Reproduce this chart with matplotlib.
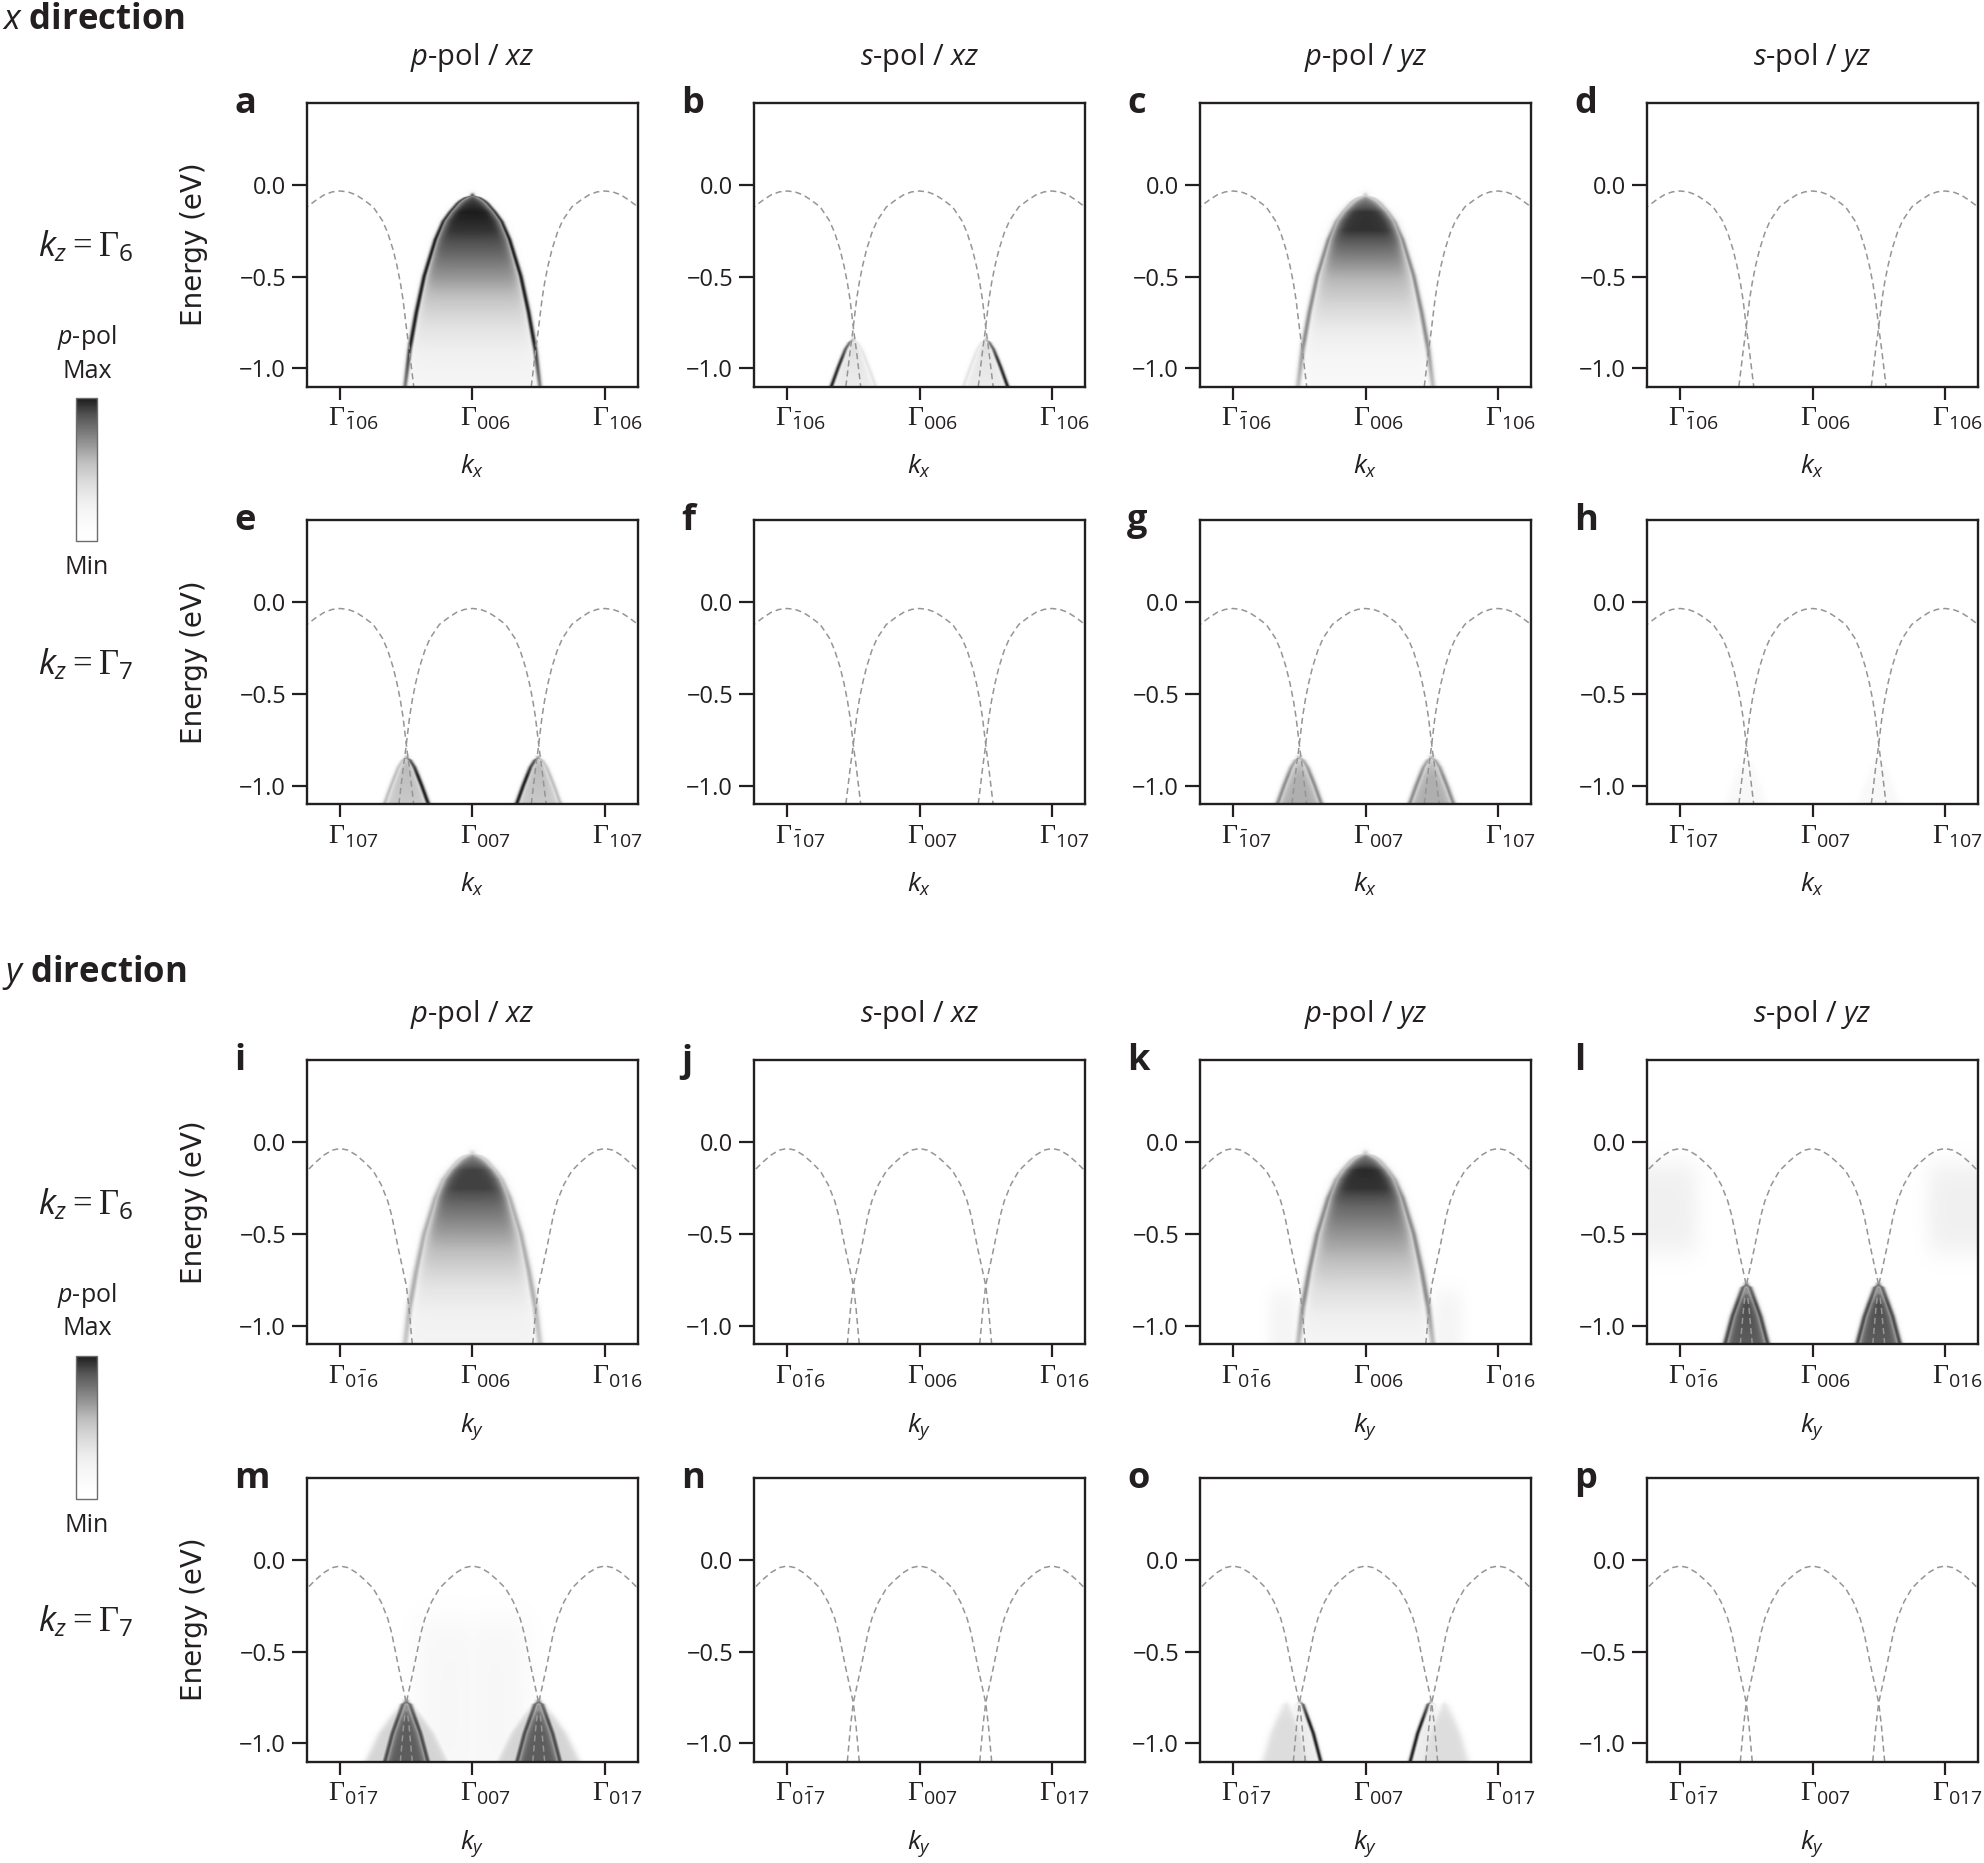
import numpy as np
import matplotlib
matplotlib.use('Agg')
import matplotlib.pyplot as plt
from matplotlib.colors import ListedColormap, Normalize
from matplotlib.cm import ScalarMappable
from matplotlib.transforms import ScaledTranslation

plt.rcParams['font.family'] = ['Open Sans', 'DejaVu Sans']
plt.rcParams['mathtext.fontset'] = 'custom'
plt.rcParams['mathtext.rm'] = 'Liberation Serif'
plt.rcParams['mathtext.it'] = 'Open Sans:italic'
plt.rcParams['mathtext.sf'] = 'Open Sans'
plt.rcParams['mathtext.bf'] = 'Open Sans:bold'

# ---- data ----
# dashed guide bands: k offset from each Gamma point, energy in eV
guide_dk_x = [0.0, 0.06, 0.12, 0.18, 0.25, 0.32, 0.36, 0.40, 0.43, 0.455, 0.475, 0.49, 0.505, 0.522, 0.537, 0.556]
guide_en_x = [-0.033, -0.038, -0.054, -0.082, -0.12, -0.195, -0.262, -0.353, -0.442, -0.533, -0.624, -0.714, -0.805, -0.895, -0.986, -1.10]
guide_dk_y = [0.0, 0.06, 0.12, 0.18, 0.25, 0.31, 0.36, 0.39, 0.415, 0.44, 0.47, 0.50, 0.52, 0.545]
guide_en_y = [-0.033, -0.042, -0.068, -0.105, -0.155, -0.23, -0.32, -0.40, -0.49, -0.58, -0.68, -0.78, -0.90, -1.10]
gamma_pos = [-1, 0, 1]
# panels whose central guide is hidden by the measured band
no_centre_guide = 'acik'

# bands seen in the maps: energy and half width
cent_en = [-0.06, -0.07, -0.085, -0.10, -0.15, -0.20, -0.30, -0.50, -0.70, -0.90, -1.10]
cent_hw = [0.0, 0.05, 0.085, 0.11, 0.17, 0.22, 0.28, 0.365, 0.425, 0.475, 0.51]
small_en_x = [-0.85, -0.86, -0.90, -1.00, -1.10]
small_hw_x = [0.0, 0.025, 0.06, 0.115, 0.165]
small_en_y = [-0.78, -0.79, -0.85, -0.95, -1.10]
small_hw_y = [0.0, 0.025, 0.055, 0.105, 0.16]
halo_hw_m = [0.0, 0.05, 0.12, 0.22, 0.32]
halo_hw_o = [0.0, 0.03, 0.07, 0.13, 0.19]

# intensity along energy (0 = white, 1 = darkest)
cent_fill_en = [-0.06, -0.15, -0.25, -0.35, -0.50, -0.65, -0.80, -0.95, -1.10]
fill_a = [0.9, 1.0, 0.95, 0.85, 0.68, 0.5, 0.35, 0.25, 0.2]
fill_c = [0.7, 0.95, 0.95, 0.8, 0.6, 0.45, 0.3, 0.2, 0.15]
fill_i = [0.7, 0.92, 0.92, 0.8, 0.65, 0.5, 0.35, 0.25, 0.22]
fill_k = [0.75, 0.97, 0.95, 0.82, 0.68, 0.55, 0.4, 0.28, 0.2]
cent_line_en = [-0.06, -0.30, -0.85, -1.10]
line_a = [0.9, 1.0, 1.0, 0.75]
line_c = [0.5, 0.7, 0.7, 0.55]
line_i = [0.45, 0.6, 0.6, 0.5]
line_k = [0.5, 0.7, 0.7, 0.55]

small_prof_x = [-0.85, -0.95, -1.10]
small_prof_y = [-0.78, -0.88, -1.10]
fill_b = [0.45, 0.35, 0.3]
line_b_out = [0.75, 0.95, 1.0]
line_b_in = [0.3, 0.35, 0.35]
fill_e = [0.6, 0.55, 0.5]
line_e_in = [0.85, 1.0, 1.0]
line_e_out = [0.5, 0.55, 0.55]
fill_g = [0.55, 0.6, 0.6]
line_g = [0.6, 0.7, 0.7]
fill_h = [0.15, 0.15, 0.15]
fill_l = [0.75, 0.9, 0.85]
line_l = [0.8, 0.9, 0.9]
fill_m = [0.75, 0.85, 0.85]
line_m = [0.8, 0.9, 0.9]
halo_m = [0.4, 0.45, 0.45]
fill_o = [0.3, 0.3, 0.3]
line_o_in = [0.85, 1.0, 1.0]
line_o_out = [0.2, 0.2, 0.2]
halo_o = [0.35, 0.4, 0.4]
none3 = [0.0, 0.0, 0.0]

letters = ['abcd', 'efgh', 'ijkl', 'mnop']
titles = [r'$p$-pol / $xz$', r'$s$-pol / $xz$', r'$p$-pol / $yz$', r'$s$-pol / $yz$']
ytick_vals = [0.0, -0.5, -1.0]
ytick_text = ['0.0', '\u22120.5', '\u22121.0']
xtick_text = {
    0: [r'$\Gamma_{\mathsf{\bar{1}06}}$', r'$\Gamma_{\mathsf{006}}$', r'$\Gamma_{\mathsf{106}}$'],
    1: [r'$\Gamma_{\mathsf{\bar{1}07}}$', r'$\Gamma_{\mathsf{007}}$', r'$\Gamma_{\mathsf{107}}$'],
    2: [r'$\Gamma_{\mathsf{0\bar{1}6}}$', r'$\Gamma_{\mathsf{006}}$', r'$\Gamma_{\mathsf{016}}$'],
    3: [r'$\Gamma_{\mathsf{0\bar{1}7}}$', r'$\Gamma_{\mathsf{007}}$', r'$\Gamma_{\mathsf{017}}$'],
}
xtick_e = [r'$\Gamma_{\mathsf{107}}$', r'$\Gamma_{\mathsf{007}}$', r'$\Gamma_{\mathsf{107}}$']
xlabels = [r'$k_x$', r'$k_x$', r'$k_y$', r'$k_y$']

# ---- map rendering ----
kgrid = np.linspace(-1.25, 1.25, 500)
egrid = np.linspace(-1.1, 0.45, 460)
KK, EE = np.meshgrid(kgrid, egrid)


def sig(x):
    return 0.5 * (1 + np.tanh(x))


def prof(xp, fp):
    xp = np.asarray(xp, float)[::-1]
    fp = np.asarray(fp, float)[::-1]
    return np.interp(EE, xp, fp)


def dome(c, en, hw, p_en, fill, l_en, left, right, lw=0.022, ew=0.015):
    apex = en[0]
    half = prof(en, hw)
    dk = np.abs(KK - c)
    d = np.where(EE > apex, np.hypot(dk, (EE - apex) * 1.4), dk - half)
    inside = sig(-d / (2 * ew))
    f = prof(p_en, fill) * inside
    w = sig((KK - c) / 0.02)
    lv = prof(l_en, left) * (1 - w) + prof(l_en, right) * w
    line = lv * np.exp(-(d / lw) ** 2)
    return np.maximum(f, line)


def box(k0, k1, e0, e1, v, s=0.04):
    ak = np.abs(KK)
    return v * sig((ak - k0) / s) * sig((k1 - ak) / s) * sig((EE - e0) / s) * sig((e1 - EE) / s)


def cent(fill, line, ew=0.02, lw=0.025):
    return dome(0, cent_en, cent_hw, cent_fill_en, fill, cent_line_en, line, line, lw=lw, ew=ew)


def pair(en, hw, p_en, fill, outer, inner, lw=0.022, centers=(-0.5, 0.5)):
    cl, cr = centers
    return np.maximum(dome(cl, en, hw, p_en, fill, p_en, outer, inner, lw=lw),
                      dome(cr, en, hw, p_en, fill, p_en, inner, outer, lw=lw))


def render(letter):
    parts = []
    if letter == 'a':
        parts.append(cent(fill_a, line_a))
    elif letter == 'b':
        parts.append(pair(small_en_x, small_hw_x, small_prof_x, fill_b, line_b_out, line_b_in))
    elif letter == 'c':
        parts.append(cent(fill_c, line_c, ew=0.025, lw=0.03))
    elif letter == 'e':
        parts.append(pair(small_en_x, small_hw_x, small_prof_x, fill_e, line_e_out, line_e_in, lw=0.025))
    elif letter == 'g':
        parts.append(pair(small_en_x, small_hw_x, small_prof_x, fill_g, line_g, line_g, lw=0.03))
    elif letter == 'h':
        parts.append(pair(small_en_x, small_hw_x, small_prof_x, fill_h, none3, none3))
    elif letter == 'i':
        parts.append(cent(fill_i, line_i, ew=0.025, lw=0.035))
    elif letter == 'k':
        parts.append(cent(fill_k, line_k, ew=0.025, lw=0.035))
        parts.append(box(0.5, 0.74, -1.3, -0.8, 0.22, s=0.07))
    elif letter == 'l':
        parts.append(pair(small_en_y, small_hw_y, small_prof_y, fill_l, line_l, line_l, lw=0.03))
        parts.append(box(0.86, 1.45, -0.62, -0.1, 0.27, s=0.09))
    elif letter == 'm':
        parts.append(pair(small_en_y, halo_hw_m, small_prof_y, halo_m, none3, none3))
        parts.append(pair(small_en_y, small_hw_y, small_prof_y, fill_m, line_m, line_m, lw=0.03))
        parts.append(box(-0.1, 0.45, -1.3, -0.3, 0.17, s=0.12))
    elif letter == 'o':
        parts.append(pair(small_en_y, halo_hw_o, small_prof_y, halo_o, none3, none3, centers=(-0.6, 0.6)))
        parts.append(pair(small_en_y, small_hw_y, small_prof_y, fill_o, line_o_out, line_o_in, lw=0.022))
    img = np.zeros_like(KK)
    for p in parts:
        img = np.maximum(img, p)
    return np.clip(img, 0, 1)


base = plt.get_cmap('Greys')
tt = np.linspace(0, 1, 256)
cmap = ListedColormap(base(0.9 * tt ** 1.5))

# ---- layout (pixels) ----
W, H = 1984, 1863
col_left = [307, 754, 1200, 1647]
row_top = [102.5, 520, 1060, 1477.5]
aw, ah = 331, 284
ink = '#231f20'

fig = plt.figure(figsize=(W / 100, H / 100), dpi=100)


def fx(x):
    return x / W


def fy(y):
    return 1 - y / H


for r in range(4):
    for ci in range(4):
        letter = letters[r][ci]
        ax = fig.add_axes([fx(col_left[ci]), fy(row_top[r] + ah), aw / W, ah / H])
        ax.imshow(render(letter), extent=[-1.25, 1.25, -1.1, 0.45], origin='lower',
                  aspect='auto', cmap=cmap, vmin=0, vmax=1, interpolation='bilinear')
        if r < 2:
            dk, en = np.array(guide_dk_x), np.array(guide_en_x)
        else:
            dk, en = np.array(guide_dk_y), np.array(guide_en_y)
        for g in gamma_pos:
            if g == 0 and letter in no_centre_guide:
                continue
            kk = np.concatenate([g - dk[::-1], g + dk[1:]])
            ee = np.concatenate([en[::-1], en[1:]])
            ax.plot(kk, ee, color='#959595', lw=1.1, ls=(0, (4, 2.6)))
        ax.set_xlim(-1.25, 1.25)
        ax.set_ylim(-1.1, 0.45)
        for s in ax.spines.values():
            s.set_linewidth(1.7)
            s.set_color(ink)
        ax.set_yticks(ytick_vals)
        ax.set_yticklabels(ytick_text)
        ax.set_xticks(gamma_pos)
        labs = xtick_e if letter == 'e' else xtick_text[r]
        ax.set_xticklabels(labs)
        ax.tick_params(axis='y', direction='out', length=11, width=1.6, color=ink,
                       labelsize=17, pad=4, labelcolor=ink)
        ax.tick_params(axis='x', direction='out', length=9, width=1.6, color=ink,
                       labelsize=20, pad=4, labelcolor=ink)
        for lab in ax.get_xticklabels():
            lab.set_horizontalalignment('left')
            lab.set_transform(lab.get_transform() + ScaledTranslation(-0.125, 0, fig.dpi_scale_trans))
        ax.set_xlabel(xlabels[r], fontsize=19, color=ink)
        ax.xaxis.set_label_coords(0.5, -0.235)
        if ci == 0:
            ax.set_ylabel('Energy (eV)', fontsize=20, family='DejaVu Sans', color=ink)
            ax.yaxis.set_label_coords(-0.30, 0.5)
        if r in (0, 2):
            ax.text(0.5, 1 + 38 / ah, titles[ci], transform=ax.transAxes, ha='center',
                    va='baseline', fontsize=21, color=ink)
        fig.text(fx(col_left[ci] - 73), fy(row_top[r] + 10.5), letter, ha='left',
                 va='baseline', fontsize=26, fontweight='bold', color=ink)

# section headers
fig.text(fx(2), fy(29), r'$\mathbf{\mathit{x}}$ direction', ha='left', va='baseline',
         fontsize=25, fontweight='bold', color=ink)
fig.text(fx(2), fy(982), r'$\mathbf{\mathit{y}}$ direction', ha='left', va='baseline',
         fontsize=25, fontweight='bold', color=ink)

# left column: kz labels and intensity scale
kz_text = [r'$k_z=\Gamma_{\mathsf{6}}$', r'$k_z=\Gamma_{\mathsf{7}}$',
           r'$k_z=\Gamma_{\mathsf{6}}$', r'$k_z=\Gamma_{\mathsf{7}}$']
for r in range(4):
    fig.text(fx(86), fy(row_top[r] + 144), kz_text[r], ha='center', va='center',
             fontsize=25, color=ink)

for off in (0, 957.5):
    fig.text(fx(87), fy(338 + off), r'$p$-pol', ha='center', va='center', fontsize=18, color=ink)
    fig.text(fx(87), fy(371 + off), 'Max', ha='center', va='center', fontsize=18, color=ink)
    fig.text(fx(87), fy(568 + off), 'Min', ha='center', va='center', fontsize=18, color=ink)
    cax = fig.add_axes([fx(76), fy(541 + off), 21 / W, 143 / H])
    cb = fig.colorbar(ScalarMappable(norm=Normalize(0, 1), cmap=cmap), cax=cax, ticks=[])
    cb.outline.set_edgecolor('#6d6d6d')
    cb.outline.set_linewidth(1.0)

fig.savefig('out.png', dpi=100)
